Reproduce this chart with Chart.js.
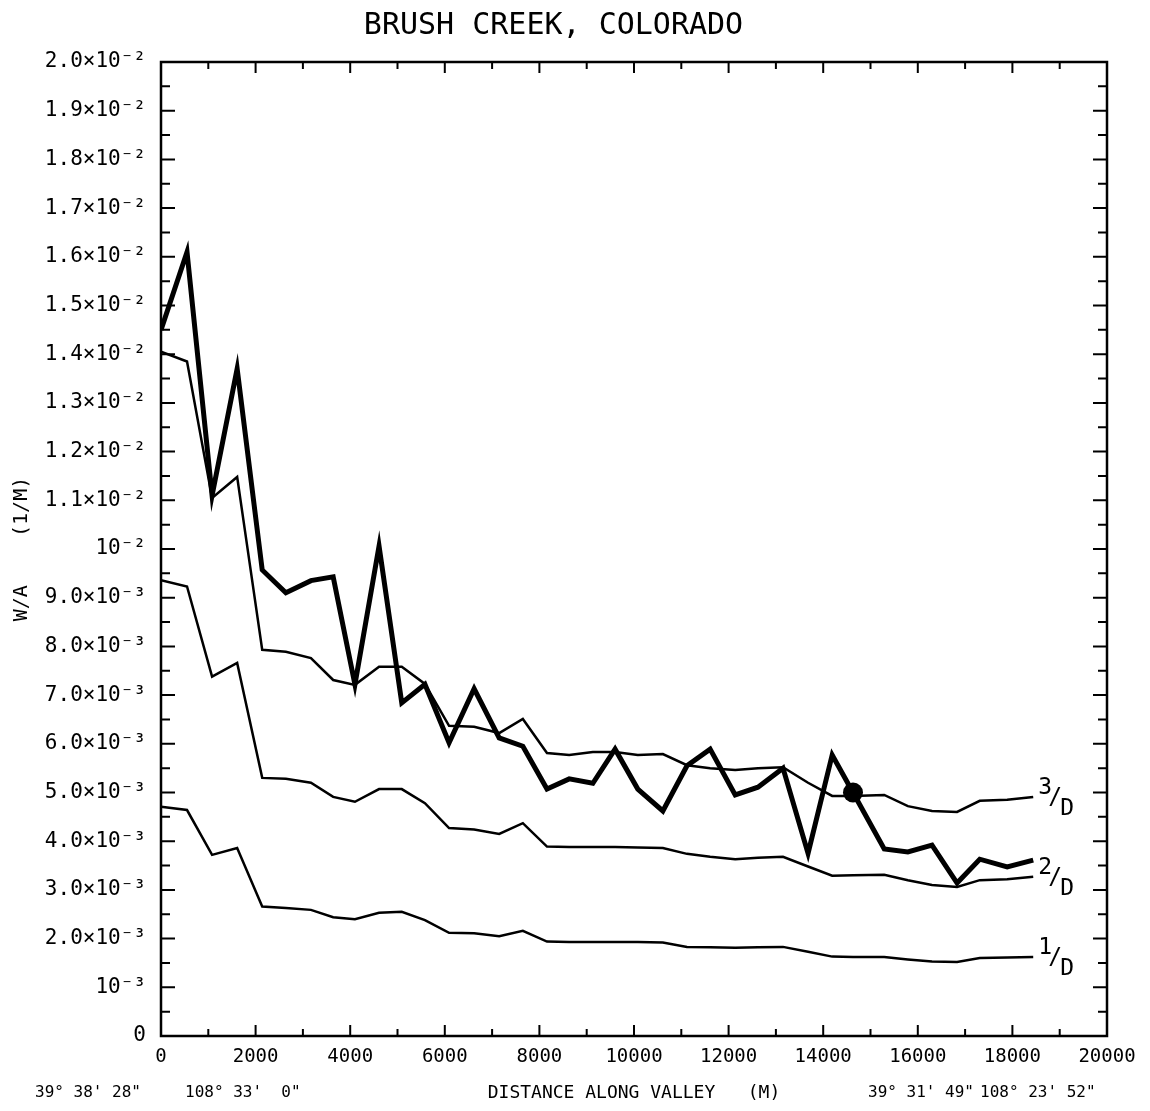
<!DOCTYPE html>
<html lang="en">
  <head>
    <meta charset="UTF-8" />
    <title>Brush Creek, Colorado - W/A along valley</title>
    <script src="https://cdn.jsdelivr.net/npm/chart.js"></script>
    <style>
      body { margin: 0; background: #fff; }
      .wrap { width: 1150px; height: 1111px; }
    </style>
  </head>
  <body>
    <div class="wrap"><canvas id="waChart"></canvas></div>

    <script>
      // distance along valley (m) for each cross section
      const distance = [0, 550, 1080, 1610, 2140, 2640, 3170, 3640, 4100, 4610,
        5090, 5580, 6090, 6620, 7150, 7650, 8160, 8630, 9130, 9600,
        10080, 10610, 11120, 11610, 12140, 12620, 13150, 13680, 14190, 14630,
        15290, 15790, 16300, 16830, 17310, 17890, 18440];

      // measured W/A (1/m)
      const waMeasured = [0.0145, 0.0161, 0.0111, 0.0137, 0.00957, 0.0091, 0.00935, 0.00943, 0.00722, 0.01006,
        0.00684, 0.00722, 0.00602, 0.00713, 0.00612, 0.00595, 0.00507, 0.00528, 0.00519, 0.00589,
        0.00507, 0.00462, 0.00555, 0.00589, 0.00495, 0.00511, 0.0055, 0.00375, 0.00577, 0.005,
        0.00384, 0.00378, 0.00392, 0.00314, 0.00363, 0.00347, 0.00361];

      // reference curves 3/D, 2/D, 1/D
      const wa3D = [0.01405, 0.01385, 0.01105, 0.01148, 0.00793, 0.00789, 0.00776, 0.00731, 0.00721, 0.00758,
        0.00758, 0.00723, 0.00637, 0.00635, 0.00622, 0.00651, 0.00581, 0.00577, 0.00583, 0.00583,
        0.00577, 0.00579, 0.00556, 0.0055, 0.00546, 0.0055, 0.00552, 0.0052, 0.00493, 0.00493,
        0.00495, 0.00472, 0.00462, 0.0046, 0.00483, 0.00485, 0.00491];
      const wa2D = [0.00936, 0.00923, 0.00738, 0.00766, 0.0053, 0.00528, 0.0052, 0.00491, 0.00481, 0.00507,
        0.00507, 0.00478, 0.00427, 0.00424, 0.00415, 0.00437, 0.00389, 0.00388, 0.00388, 0.00388,
        0.00387, 0.00386, 0.00374, 0.00368, 0.00363, 0.00366, 0.00368, 0.00348, 0.00329, 0.0033,
        0.00331, 0.0032, 0.0031, 0.00306, 0.0032, 0.00322, 0.00327];
      const wa1D = [0.00471, 0.00464, 0.00372, 0.00386, 0.00266, 0.00263, 0.00259, 0.00244, 0.0024, 0.00253,
        0.00255, 0.00238, 0.00212, 0.00211, 0.00205, 0.00216, 0.00194, 0.00193, 0.00193, 0.00193,
        0.00193, 0.00192, 0.00183, 0.00182, 0.00181, 0.00182, 0.00183, 0.00173, 0.00163, 0.00162,
        0.00162, 0.00157, 0.00153, 0.00152, 0.0016, 0.00161, 0.00162];

      const curveNumerators = ["3", "2", "1"];
      const markedPoint = 29;

      const coordLabels = [
        ["39\u00b0 38' 28\"", 35],
        ["108\u00b0 33'  0\"", 185],
        ["39\u00b0 31' 49\"", 868],
        ["108\u00b0 23' 52\"", 980],
      ];

      const FONT = "'DejaVu Sans Mono', 'Liberation Mono', monospace";

      function sciLabel(v) {
        const k = Math.round(v * 10000);
        if (k === 0) return "0";
        if (k % 10 !== 0) return "";
        const m = k / 10;
        if (m === 1) return "10\u207b\u00b3";
        if (m === 10) return "10\u207b\u00b2";
        if (m < 10) return m.toFixed(1) + "\u00d710\u207b\u00b3";
        return (m / 10).toFixed(1) + "\u00d710\u207b\u00b2";
      }

      const toPoints = (arr) => arr.map((v, i) => ({ x: distance[i], y: v }));

      // frame with inward ticks, curve labels and coordinates row
      const frameTicks = {
        id: "frameTicks",
        afterDraw(chart) {
          const { ctx, chartArea: a, scales } = chart;
          const x = scales.x, y = scales.y;
          ctx.save();
          ctx.strokeStyle = "#000";
          ctx.lineWidth = 2.5;
          ctx.strokeRect(a.left, a.top, a.right - a.left, a.bottom - a.top);

          ctx.lineWidth = 2;
          ctx.beginPath();
          y.ticks.forEach((t) => {
            const py = y.getPixelForValue(t.value);
            const len = Math.round(t.value * 10000) % 10 === 0 ? 14 : 9;
            ctx.moveTo(a.left, py); ctx.lineTo(a.left + len, py);
            ctx.moveTo(a.right, py); ctx.lineTo(a.right - len, py);
          });
          x.ticks.forEach((t) => {
            const px = x.getPixelForValue(t.value);
            const len = Math.round(t.value) % 2000 === 0 ? 11 : 7;
            ctx.moveTo(px, a.bottom); ctx.lineTo(px, a.bottom - len);
            ctx.moveTo(px, a.top); ctx.lineTo(px, a.top + len);
          });
          ctx.stroke();

          // n/D labels at the end of each reference curve
          ctx.fillStyle = "#000";
          ctx.textAlign = "center";
          ctx.textBaseline = "middle";
          ctx.font = "23px " + FONT;
          [1, 2, 3].forEach((di, k) => {
            const pts = chart.getDatasetMeta(di).data;
            const last = pts[pts.length - 1];
            const px = last.x, py = last.y;
            ctx.fillText(curveNumerators[k], px + 12, py - 9);
            ctx.fillText("/", px + 22, py + 1);
            ctx.fillText("D", px + 34, py + 12);
          });

          ctx.font = "16px " + FONT;
          ctx.textAlign = "left";
          coordLabels.forEach(([txt, px]) => ctx.fillText(txt, px, 1093));
          ctx.restore();
        },
      };

      const thin = { borderColor: "#000", borderWidth: 2.5, pointRadius: 0, tension: 0, fill: false };

      new Chart(document.getElementById("waChart"), {
        type: "line",
        data: {
          datasets: [
            {
              label: "W/A",
              data: toPoints(waMeasured),
              borderColor: "#000",
              borderWidth: 5,
              tension: 0,
              fill: false,
              pointRadius: waMeasured.map((v, i) => (i === markedPoint ? 10 : 0)),
              pointBackgroundColor: "#000",
              pointBorderWidth: 0,
            },
            { label: "3/D", data: toPoints(wa3D), ...thin },
            { label: "2/D", data: toPoints(wa2D), ...thin },
            { label: "1/D", data: toPoints(wa1D), ...thin },
          ],
        },
        options: {
          responsive: true,
          maintainAspectRatio: false,
          animation: false,
          layout: { padding: { left: 0, right: 43, top: 0, bottom: 0 } },
          plugins: {
            legend: { display: false },
            tooltip: { enabled: false },
            title: {
              display: true,
              text: "BRUSH CREEK, COLORADO",
              color: "#000",
              font: { family: FONT, size: 30, weight: "normal" },
              padding: { top: 8, bottom: 18 },
            },
          },
          scales: {
            x: {
              type: "linear",
              min: 0,
              max: 20000,
              grid: { display: false, drawTicks: false },
              border: { display: false },
              ticks: {
                stepSize: 1000,
                autoSkip: false,
                maxRotation: 0,
                color: "#000",
                padding: 10,
                font: { family: FONT, size: 19 },
                callback: (v) => (Math.round(v) % 2000 === 0 ? String(v) : ""),
              },
              title: {
                display: true,
                text: "DISTANCE ALONG VALLEY   (M)",
                color: "#000",
                font: { family: FONT, size: 18 },
                padding: { top: 0, bottom: 7 },
              },
              afterFit: (scale) => { scale.height = 75; },
            },
            y: {
              min: 0,
              max: 0.02,
              grid: { display: false, drawTicks: false },
              border: { display: false },
              ticks: {
                stepSize: 0.0005,
                autoSkip: false,
                color: "#000",
                padding: 15,
                font: { family: FONT, size: 21 },
                callback: (v) => sciLabel(v),
              },
              title: {
                display: true,
                text: "W/A    (1/M)",
                color: "#000",
                font: { family: FONT, size: 20 },
                padding: { top: 10, bottom: 0 },
              },
              afterFit: (scale) => { scale.width = 161; },
            },
          },
        },
        plugins: [frameTicks],
      });
    </script>
  </body>
</html>
